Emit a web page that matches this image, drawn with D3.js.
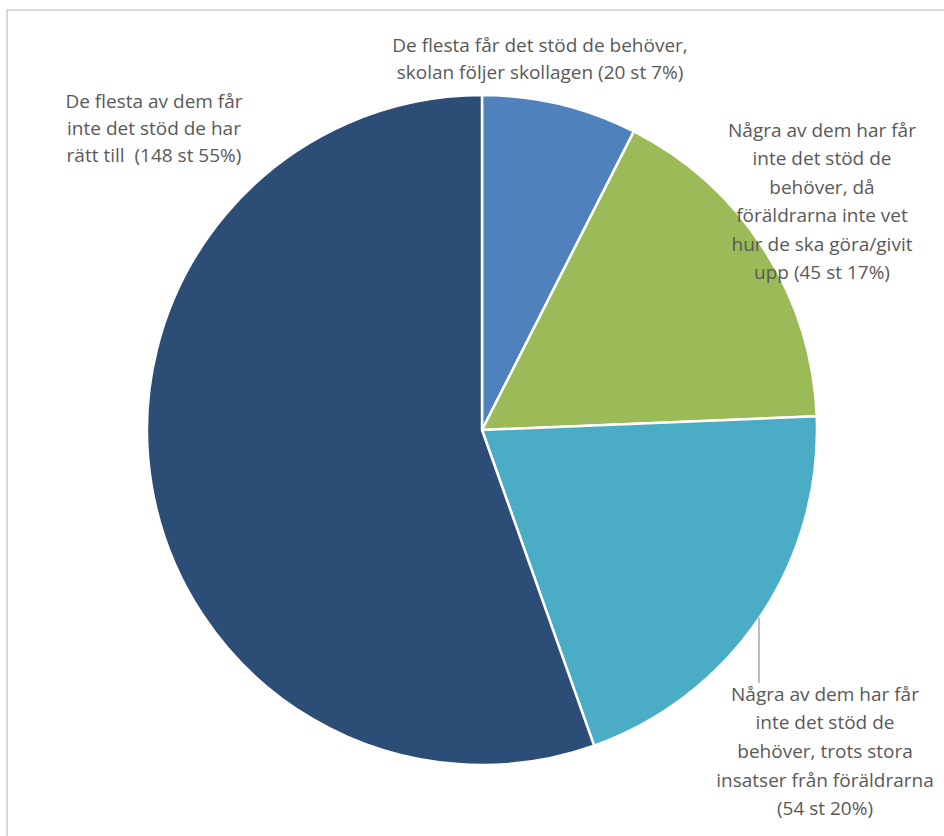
<!DOCTYPE html>
<html>
<head>
<meta charset="utf-8">
<script src="https://cdn.jsdelivr.net/npm/d3@7"></script>
<style>
  html, body { margin: 0; padding: 0; background: #fff; }
  svg { display: block; }
</style>
</head>
<body>
<svg id="chart" width="944" height="836"></svg>
<script>
// Survey answers: number of respondents per answer (clockwise from 12 o'clock)
const categories = [
  "De flesta får det stöd de behöver, skolan följer skollagen",
  "Några av dem har får inte det stöd de behöver, då föräldrarna inte vet hur de ska göra/givit upp",
  "Några av dem har får inte det stöd de behöver, trots stora insatser från föräldrarna",
  "De flesta av dem får inte det stöd de har rätt till"
];
const counts = [20, 45, 54, 148];
const colors = ["#4F81BD", "#9BBB59", "#4BACC6", "#2C4D75"];

// Wrapped label lines; the value suffix "(n st p%)" is appended from the counts
const labelLines = [
  ["De flesta får det stöd de behöver,", "skolan följer skollagen"],
  ["Några av dem har får", "inte det stöd de", "behöver, då", "föräldrarna inte vet", "hur de ska göra/givit", "upp"],
  ["Några av dem har får", "inte det stöd de", "behöver, trots stora", "insatser från föräldrarna", ""],
  ["De flesta av dem får", "inte det stöd de har", "rätt till "]
];

const svg = d3.select("#chart");
const W = 944, H = 836;

// Chart frame (extends past the visible area at right and bottom)
svg.append("rect")
  .attr("x", 7).attr("y", 10)
  .attr("width", W + 20).attr("height", H + 20)
  .attr("fill", "#fff")
  .attr("stroke", "#d9d9d9").attr("stroke-width", 2);

const cx = 482, cy = 430, R = 335;
const total = d3.sum(counts);

const pie = d3.pie().sort(null).value(d => d).startAngle(0).endAngle(2 * Math.PI);
const arc = d3.arc().innerRadius(0).outerRadius(R);
const arcs = pie(counts);

const g = svg.append("g").attr("transform", `translate(${cx},${cy})`);
g.selectAll("path.slice")
  .data(arcs)
  .join("path")
  .attr("class", "slice")
  .attr("d", arc)
  .attr("fill", (d, i) => colors[i])
  .attr("stroke", "#fff")
  .attr("stroke-width", 2.5)
  .attr("stroke-linejoin", "round");

// Label layout: centre x, first line centre y, line spacing
const labelLayout = [
  { x: 540, y: 45, dy: 27 },
  { x: 822, y: 130, dy: 28.5 },
  { x: 825, y: 694, dy: 28.7 },
  { x: 154, y: 101, dy: 27 }
];

const fmt = (v) => `(${v} st ${Math.round(v / total * 100)}%)`;

labelLines.forEach((lines, i) => {
  const L = labelLayout[i];
  const full = lines.slice();
  const last = full.length - 1;
  full[last] = full[last] === "" ? fmt(counts[i]) : full[last] + " " + fmt(counts[i]);
  const t = svg.append("text")
    .attr("class", "label")
    .attr("text-anchor", "middle")
    .attr("font-family", "'Open Sans', sans-serif")
    .attr("font-size", 19)
    .attr("fill", "#595959");
  full.forEach((s, k) => {
    t.append("tspan")
      .attr("x", L.x)
      .attr("y", L.y + k * L.dy)
      .attr("dy", "0.35em")
      .attr("xml:space", "preserve")
      .text(s);
  });
});

// Leader line for the third slice label
svg.append("line")
  .attr("x1", 759).attr("y1", 618)
  .attr("x2", 759).attr("y2", 683)
  .attr("stroke", "#a6a6a6").attr("stroke-width", 1.5);
</script>
</body>
</html>
